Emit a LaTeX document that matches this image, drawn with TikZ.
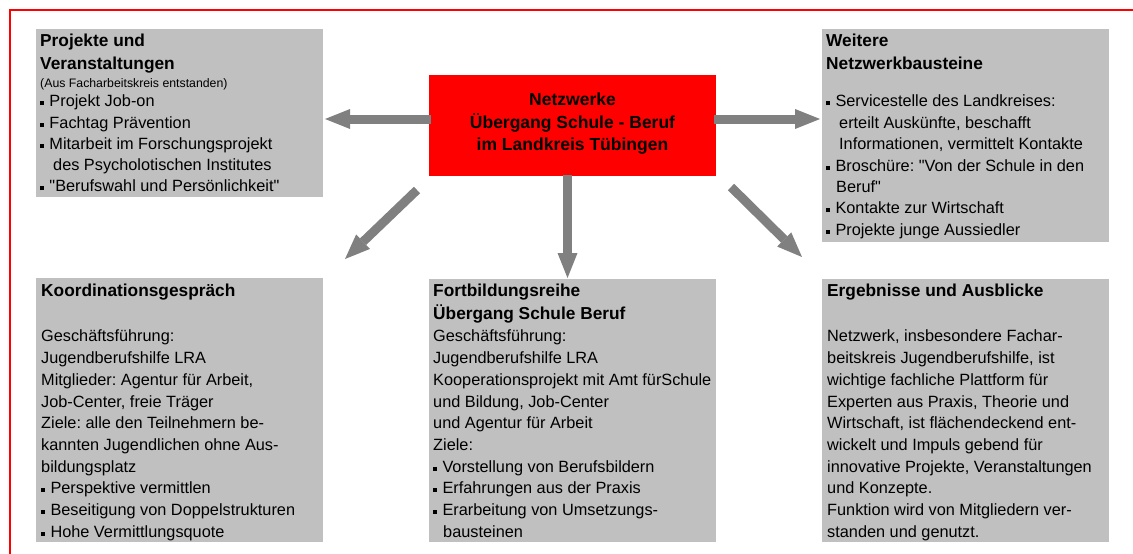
\documentclass[tikz,border=0pt]{standalone}
\usepackage{fontspec}
\setmainfont{Liberation Sans}
\usetikzlibrary{arrows.meta,calc}
\definecolor{boxgray}{RGB}{192,192,192}
\definecolor{arrowgray}{RGB}{128,128,128}
% small square list bullet and a fixed-height strut for the first line
\newcommand{\blt}{\rule[1.6pt]{4pt}{4pt}\hspace{5.3pt}}
\newcommand{\firstln}{\rule{0pt}{18pt}}
\tikzset{
  panel/.style={fill=boxgray, inner sep=0pt, outer sep=0pt, anchor=north west, minimum width=287pt},
  hubbox/.style={fill=red, inner sep=0pt, outer sep=0pt, anchor=north west, minimum width=287pt, minimum height=101pt},
  head/.style={anchor=north west, inner sep=0pt, align=left, font=\bfseries\fontsize{17.3}{22.5}\selectfont},
  small/.style={anchor=north west, inner sep=0pt, align=left, font=\fontsize{12.3}{14}\selectfont},
  body/.style={anchor=north west, inner sep=0pt, align=left, font=\fontsize{16.3}{21.7}\selectfont},
  link/.style={draw=arrowgray, line width=9pt, -{Triangle[length=25pt,width=20pt,line width=0pt]}},
}
\frenchspacing
\begin{document}
\begin{tikzpicture}[x=1pt,y=-1pt]
\useasboundingbox (0,0) rectangle (1133,554);
% outer frame
\draw[red, line width=2pt] (10,560) -- (10,10) -- (1140,10);

% panels
\node[panel, minimum height=168pt] (proj) at (36,29) {};
\node[hubbox] (hub) at (429,75) {};
\node[panel, minimum height=213pt] (weit) at (822,29) {};
\node[panel, minimum height=264pt] (koord) at (36,278) {};
\node[panel, minimum height=263pt] (fort) at (429,279) {};
\node[panel, minimum height=263pt] (erg) at (822,279) {};

% centre
\node[anchor=north, inner sep=0pt, align=center, font=\bfseries\fontsize{17.5}{22.2}\selectfont] (hubT) at (572.5,87.7)
  {\firstln Netzwerke\\Übergang Schule - Beruf\\im Landkreis Tübingen};

% Projekte und Veranstaltungen
\node[head] (projT) at (40,28.7) {\firstln Projekte und\\Veranstaltungen};
\node[small] (projS) at (40,69.3) {\firstln (Aus Facharbeitskreis entstanden)};
\node[body, font=\fontsize{16.3}{21.25}\selectfont] (projB) at (40,88.7) {\firstln
  \blt Projekt Job-on\\
  \blt Fachtag Prävention\\
  \blt Mitarbeit im Forschungsprojekt\\
  \hspace*{13pt}des Psycholotischen Institutes\\
  \blt \textquotedbl Berufswahl und Persönlichkeit\textquotedbl};

% Weitere Netzwerkbausteine
\node[head] (weitT) at (826,28.7) {\firstln Weitere\\Netzwerkbausteine};
\node[body, font=\fontsize{16.3}{21.4}\selectfont] (weitB) at (826,88.7) {\firstln
  \blt Servicestelle des Landkreises:\\
  \hspace*{13pt}erteilt Auskünfte, beschafft\\
  \hspace*{13pt}Informationen, vermittelt Kontakte\\
  \blt Broschüre: \textquotedbl Von der Schule in den\\
  \hspace*{10pt}Beruf\textquotedbl\\
  \blt Kontakte zur Wirtschaft\\
  \blt Projekte junge Aussiedler};

% Koordinationsgespräch
\node[head] (koordT) at (41,278.7) {\firstln Koordinationsgespräch};
\node[body] (koordB) at (41,323.7) {\firstln
  Geschäftsführung:\\
  Jugendberufshilfe LRA\\
  Mitglieder: Agentur für Arbeit,\\
  Job-Center, freie Träger\\
  Ziele: alle den Teilnehmern be-\\
  kannten Jugendlichen ohne Aus-\\
  bildungsplatz\\
  \blt Perspektive vermittlen\\
  \blt Beseitigung von Doppelstrukturen\\
  \blt Hohe Vermittlungsquote};

% Fortbildungsreihe
\node[head, font=\bfseries\fontsize{17.3}{22.3}\selectfont] (fortT) at (433,278.7) {\firstln Fortbildungsreihe\\Übergang Schule Beruf};
\node[body] (fortB) at (433,323.7) {\firstln
  Geschäftsführung:\\
  Jugendberufshilfe LRA\\
  Kooperationsprojekt mit Amt fürSchule\\
  und Bildung, Job-Center\\
  und Agentur für Arbeit\\
  Ziele:\\
  \blt Vorstellung von Berufsbildern\\
  \blt Erfahrungen aus der Praxis\\
  \blt Erarbeitung von Umsetzungs-\\
  \hspace*{10pt}bausteinen};

% Ergebnisse und Ausblicke
\node[head] (ergT) at (827,278.7) {\firstln Ergebnisse und Ausblicke};
\node[body] (ergB) at (827,323.7) {\firstln
  Netzwerk, insbesondere Fachar-\\
  beitskreis Jugendberufshilfe, ist\\
  wichtige fachliche Plattform für\\
  Experten aus Praxis, Theorie und\\
  Wirtschaft, ist flächendeckend ent-\\
  wickelt und Impuls gebend für\\
  innovative Projekte, Veranstaltungen\\
  und Konzepte.\\
  Funktion wird von Mitgliedern ver-\\
  standen und genutzt.};

% connectors from the centre
\draw[link, shorten <=-2pt, shorten >=2pt] ([yshift=6.5pt]hub.west) -- ([yshift=-6pt]proj.east);
\draw[link, shorten <=-2pt, shorten >=2pt] ([yshift=6.5pt]hub.east) -- ([yshift=16.5pt]weit.west);
\draw[link, shorten <=-1pt, shorten >=1pt] ([xshift=-5pt]hub.south) -- ([xshift=-5pt]fort.north);
\draw[link] ($(hub.south west)+(-12,14)$) -- ($(koord.north east)+(22,-19)$);
\draw[link] ($(hub.south east)+(15,11)$) -- ($(erg.north west)+(-20,-22)$);
\end{tikzpicture}
\end{document}
